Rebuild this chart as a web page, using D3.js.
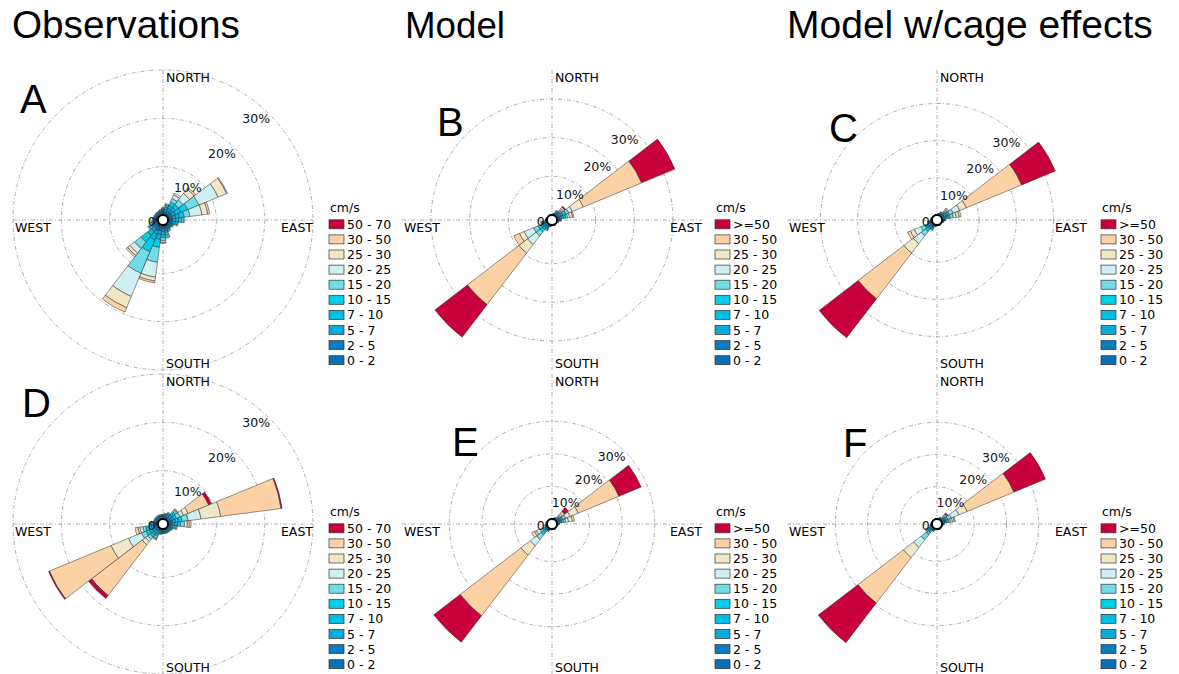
<!DOCTYPE html>
<html>
<head>
<meta charset="utf-8">
<script src="https://cdn.jsdelivr.net/npm/d3@7"></script>
<style>
  body { margin: 0; background: #fff; }
  svg { display: block; }
</style>
</head>
<body>
<svg id="chart" width="1179" height="674"></svg>
<script>
// ---- data --------------------------------------------------------------
// 24 direction sectors of 15 degrees (compass bearing, clockwise from north)
const directions = d3.range(0, 360, 15);

// speed classes, inner to outer
const speedBinsObs   = ["0 - 2", "2 - 5", "5 - 7", "7 - 10", "10 - 15", "15 - 20", "20 - 25", "25 - 30", "30 - 50", "50 - 70"];
const speedBinsModel = ["0 - 2", "2 - 5", "5 - 7", "7 - 10", "10 - 15", "15 - 20", "20 - 25", "25 - 30", "30 - 50", ">=50"];
const binColors = ["#0b6fb6", "#0a7cc2", "#09a9dd", "#00bde6", "#00cfeb", "#72dceb", "#cfeff2", "#efe7c5", "#fcd2a4", "#c8003b"];

const legendUnit   = "cm/s";
const ringTicks    = [10, 20, 30];
const compassText  = ["NORTH", "EAST", "SOUTH", "WEST"];
const columnTitles = ["Observations", "Model", "Model w/cage effects"];
const panelLetters = ["A", "B", "C", "D", "E", "F"];
// outer radius of each rose, in percent
const panelMax     = [30, 37.5, 39, 30, 44.5, 45];

// frequency of occurrence (%) : one row per direction, one column per speed class
const freqA = [
  [0.4,0.4,0.2,0.2,0.2,0.1,0,0,0,0],
  [0.4,0.4,0.4,0.4,0.4,0.2,0.2,0,0,0],
  [0.4,0.6,0.6,0.6,0.8,0.8,0.8,0.4,0,0],
  [0.4,0.6,0.6,0.6,0.8,1.2,1.7,1.2,0.4,0],
  [0.4,0.6,0.8,1.2,1.5,2.5,4.3,1.9,0.2,0],
  [0.4,0.6,0.6,0.8,1.0,1.2,2.5,1.2,0.4,0],
  [0.4,0.6,0.6,0.6,0.6,0.4,0.2,0,0,0],
  [0.4,0.4,0.4,0.4,0.4,0.2,0,0,0,0],
  [0.4,0.4,0.2,0.2,0.2,0,0,0,0,0],
  [0.4,0.2,0.2,0.2,0.2,0,0,0,0,0],
  [0.4,0.4,0.2,0.2,0.2,0.2,0,0,0,0],
  [0.4,0.4,0.4,0.4,0.6,0.4,0.2,0,0,0],
  [0.4,0.4,0.6,0.6,0.6,0.6,0.4,0.2,0,0],
  [0.4,0.8,0.8,1.0,1.7,3.1,3.1,0.8,0.4,0],
  [0.6,0.8,0.8,1.2,2.7,4.8,5.2,2.5,1.0,0],
  [0.4,0.8,0.8,1.0,1.7,1.7,1.2,0.6,0.4,0],
  [0.4,0.4,0.4,0.4,0.4,0.2,0.2,0,0,0],
  [0.4,0.4,0.2,0.2,0.2,0.2,0,0,0,0],
  [0.4,0.2,0.2,0.2,0.2,0,0,0,0,0],
  [0.4,0.2,0.2,0.2,0,0,0,0,0,0],
  [0.4,0.2,0.2,0.2,0,0,0,0,0,0],
  [0.4,0.2,0.2,0.2,0,0,0,0,0,0],
  [0.4,0.2,0.2,0.2,0,0,0,0,0,0],
  [0.4,0.2,0.2,0.2,0.2,0,0,0,0,0]
];

const freqB = [
  [0.1,0.1,0,0,0,0,0,0,0,0],
  [0.2,0.2,0.1,0,0,0,0,0,0,0],
  [0.3,0.3,0.3,0.3,0.2,0,0,0,0,0],
  [0.3,0.3,0.3,0.3,0.3,0.3,0.3,0.3,0.5,0.3],
  [0.3,0.5,0.5,0.5,0.8,0.8,1.0,3.1,16.3,9.3],
  [0.3,0.5,0.5,0.5,0.5,0.5,0.5,0.8,0.3,0],
  [0.3,0.3,0.2,0.2,0.1,0,0,0,0,0],
  [0.2,0.2,0.1,0,0,0,0,0,0,0],
  [0.1,0.1,0,0,0,0,0,0,0,0],
  [0.1,0.1,0,0,0,0,0,0,0,0],
  [0.1,0.1,0,0,0,0,0,0,0,0],
  [0.1,0.1,0,0,0,0,0,0,0,0],
  [0.1,0.1,0,0,0,0,0,0,0,0],
  [0.2,0.2,0.1,0,0,0,0,0,0,0],
  [0.3,0.3,0.3,0.3,0.3,0.3,0,0,0,0],
  [0.3,0.5,0.5,0.5,0.8,1.3,2.8,2.8,16.8,10.6],
  [0.3,0.5,0.5,0.5,0.8,1.3,2.6,1.3,1.6,0],
  [0.3,0.3,0.3,0.3,0.3,0.2,0,0,0,0],
  [0.2,0.2,0.1,0,0,0,0,0,0,0],
  [0.1,0.1,0,0,0,0,0,0,0,0],
  [0.1,0.1,0,0,0,0,0,0,0,0],
  [0.1,0.1,0,0,0,0,0,0,0,0],
  [0.1,0.1,0,0,0,0,0,0,0,0],
  [0.1,0.1,0,0,0,0,0,0,0,0]
];

const freqC = [
  [0.1,0.1,0,0,0,0,0,0,0,0],
  [0.2,0.2,0.1,0,0,0,0,0,0,0],
  [0.3,0.3,0.3,0.2,0,0,0,0,0,0],
  [0.3,0.3,0.3,0.3,0.3,0.3,0.3,0.3,0.3,0],
  [0.3,0.5,0.5,0.5,0.5,1.1,1.9,1.9,16.1,9.8],
  [0.3,0.5,0.5,0.5,0.5,0.8,0.8,0.8,0.5,0],
  [0.3,0.3,0.2,0.1,0,0,0,0,0,0],
  [0.2,0.2,0.1,0,0,0,0,0,0,0],
  [0.1,0.1,0,0,0,0,0,0,0,0],
  [0.1,0.1,0,0,0,0,0,0,0,0],
  [0.1,0.1,0,0,0,0,0,0,0,0],
  [0.1,0.1,0,0,0,0,0,0,0,0],
  [0.1,0.1,0,0,0,0,0,0,0,0],
  [0.2,0.2,0.1,0,0,0,0,0,0,0],
  [0.3,0.3,0.3,0.3,0.3,0.2,0,0,0,0],
  [0.3,0.5,0.5,0.5,0.8,1.4,2.7,3.2,15.5,13.2],
  [0.3,0.5,0.5,0.5,0.5,1.1,1.9,1.1,0.8,0],
  [0.3,0.3,0.3,0.2,0.1,0,0,0,0,0],
  [0.2,0.2,0.1,0,0,0,0,0,0,0],
  [0.1,0.1,0,0,0,0,0,0,0,0],
  [0.1,0.1,0,0,0,0,0,0,0,0],
  [0.1,0.1,0,0,0,0,0,0,0,0],
  [0.1,0.1,0,0,0,0,0,0,0,0],
  [0.1,0.1,0,0,0,0,0,0,0,0]
];

const freqD = [
  [0.2,0.4,0.2,0.2,0,0,0,0,0,0],
  [0.2,0.4,0.2,0.2,0.2,0,0,0,0,0],
  [0.2,0.4,0.4,0.2,0.2,0.2,0,0,0,0],
  [0.2,0.6,0.6,0.4,0.4,0.4,0.2,0.2,0,0],
  [0.2,0.4,0.4,0.4,0.6,0.8,0.8,1.0,4.6,0.6],
  [0.4,0.6,0.6,0.6,0.8,1.2,2.7,4.1,12.6,0.2],
  [0.2,0.6,0.6,0.6,0.6,0.8,0.6,0.4,0.4,0],
  [0.2,0.4,0.4,0.4,0.4,0.2,0,0,0,0],
  [0.2,0.4,0.2,0.2,0.2,0,0,0,0,0],
  [0.2,0.4,0.2,0.2,0,0,0,0,0,0],
  [0.2,0.4,0.2,0.2,0,0,0,0,0,0],
  [0.2,0.4,0.2,0.2,0,0,0,0,0,0],
  [0.2,0.4,0.2,0.2,0,0,0,0,0,0],
  [0.2,0.4,0.2,0.2,0.2,0,0,0,0,0],
  [0.2,0.4,0.4,0.4,0.4,0.4,0.2,0.2,0,0],
  [0.2,0.6,0.6,0.4,0.6,0.6,0.6,0.8,13.2,0.8],
  [0.2,0.6,0.6,0.6,0.8,1.0,2.9,3.9,13.8,0.2],
  [0.2,0.6,0.6,0.6,0.6,0.6,0.6,0.4,0.6,0],
  [0.2,0.4,0.4,0.4,0.2,0.2,0,0,0,0],
  [0.2,0.4,0.2,0.2,0,0,0,0,0,0],
  [0.2,0.4,0.2,0.2,0,0,0,0,0,0],
  [0.2,0.4,0.2,0.2,0,0,0,0,0,0],
  [0.2,0.4,0.2,0.2,0,0,0,0,0,0],
  [0.2,0.4,0.2,0.2,0,0,0,0,0,0]
];

const freqE = [
  [0.1,0.1,0,0,0,0,0,0,0,0],
  [0.1,0.1,0.1,0,0,0,0,0,0,0],
  [0.2,0.2,0.2,0.1,0,0,0,0,0,0],
  [0.2,0.2,0.3,0.3,0.3,0.3,0.3,0.6,0.9,1.5],
  [0.3,0.6,0.3,0.3,0.6,0.9,1.5,2.7,13.5,7.4],
  [0.3,0.6,0.3,0.3,0.6,0.6,0.9,1.2,0.6,0],
  [0.2,0.2,0.2,0.1,0,0,0,0,0,0],
  [0.1,0.1,0.1,0,0,0,0,0,0,0],
  [0.1,0.1,0,0,0,0,0,0,0,0],
  [0.1,0.1,0,0,0,0,0,0,0,0],
  [0.1,0.1,0,0,0,0,0,0,0,0],
  [0.1,0.1,0,0,0,0,0,0,0,0],
  [0.1,0.1,0,0,0,0,0,0,0,0],
  [0.1,0.1,0.1,0,0,0,0,0,0,0],
  [0.2,0.2,0.2,0.2,0.2,0,0,0,0,0],
  [0.3,0.6,0.3,0.6,0.9,1.8,2.4,3.6,23.5,10.2],
  [0.2,0.2,0.3,0.3,0.6,0.9,1.2,0.6,0.9,0],
  [0.2,0.2,0.2,0.1,0,0,0,0,0,0],
  [0.1,0.1,0.1,0,0,0,0,0,0,0],
  [0.1,0.1,0,0,0,0,0,0,0,0],
  [0.1,0.1,0,0,0,0,0,0,0,0],
  [0.1,0.1,0,0,0,0,0,0,0,0],
  [0.1,0.1,0,0,0,0,0,0,0,0],
  [0.1,0.1,0,0,0,0,0,0,0,0]
];

const freqF = [
  [0.1,0.1,0,0,0,0,0,0,0,0],
  [0.1,0.1,0.1,0,0,0,0,0,0,0],
  [0.2,0.2,0.2,0.1,0,0,0,0,0,0],
  [0.2,0.2,0.3,0.3,0.3,0.3,0.3,0.3,0.3,0.3],
  [0.3,0.6,0.3,0.3,0.6,1.2,2.5,2.8,15.7,10.6],
  [0.3,0.6,0.3,0.3,0.6,0.6,0.6,0.6,0.3,0],
  [0.2,0.2,0.2,0.1,0,0,0,0,0,0],
  [0.1,0.1,0.1,0,0,0,0,0,0,0],
  [0.1,0.1,0,0,0,0,0,0,0,0],
  [0.1,0.1,0,0,0,0,0,0,0,0],
  [0.1,0.1,0,0,0,0,0,0,0,0],
  [0.1,0.1,0,0,0,0,0,0,0,0],
  [0.1,0.1,0,0,0,0,0,0,0,0],
  [0.1,0.1,0.1,0,0,0,0,0,0,0],
  [0.2,0.2,0.2,0.2,0.2,0,0,0,0,0],
  [0.3,0.6,0.3,0.6,0.9,1.9,3.0,4.0,17.8,15.5],
  [0.2,0.2,0.3,0.3,0.3,0.3,0.3,0.3,0.3,0],
  [0.2,0.2,0.2,0.1,0,0,0,0,0,0],
  [0.1,0.1,0.1,0,0,0,0,0,0,0],
  [0.1,0.1,0,0,0,0,0,0,0,0],
  [0.1,0.1,0,0,0,0,0,0,0,0],
  [0.1,0.1,0,0,0,0,0,0,0,0],
  [0.1,0.1,0,0,0,0,0,0,0,0],
  [0.1,0.1,0,0,0,0,0,0,0,0]
];

// ---- layout ------------------------------------------------------------
const svg = d3.select("#chart");
const labelFont = "'DejaVu Sans', sans-serif";
const titleFont = "'Liberation Sans', Arial, sans-serif";
const INNER = 5, OUTER = 150;
const sectorWidth = 15;

const panels = [
  { freq: freqA, max: panelMax[0], letter: panelLetters[0], bins: speedBinsObs,   cx: 163, cy: 220, lx: 329,  letterPos: [20, 113] },
  { freq: freqB, max: panelMax[1], letter: panelLetters[1], bins: speedBinsModel, cx: 552, cy: 220, lx: 715,  letterPos: [437, 136] },
  { freq: freqC, max: panelMax[2], letter: panelLetters[2], bins: speedBinsModel, cx: 937, cy: 220, lx: 1101, letterPos: [829, 142] },
  { freq: freqD, max: panelMax[3], letter: panelLetters[3], bins: speedBinsObs,   cx: 163, cy: 524, lx: 329,  letterPos: [22, 417] },
  { freq: freqE, max: panelMax[4], letter: panelLetters[4], bins: speedBinsModel, cx: 552, cy: 524, lx: 715,  letterPos: [452, 456] },
  { freq: freqF, max: panelMax[5], letter: panelLetters[5], bins: speedBinsModel, cx: 937, cy: 524, lx: 1101, letterPos: [843, 457] }
];

const color = d3.scaleOrdinal().domain(d3.range(binColors.length)).range(binColors);
const angle = d3.scaleLinear().domain([0, 360]).range([0, 2 * Math.PI]);
const arc = d3.arc()
  .innerRadius(d => d.r0).outerRadius(d => d.r1)
  .startAngle(d => d.a0).endAngle(d => d.a1);

// column titles, sized to their column width
const titleSpecs = [
  { text: columnTitles[0], x: 12,  width: 228 },
  { text: columnTitles[1], x: 405, width: 100 },
  { text: columnTitles[2], x: 787, width: 366 }
];
titleSpecs.forEach(t => {
  const el = svg.append("text")
    .attr("x", t.x).attr("y", 38)
    .attr("font-family", titleFont).attr("font-size", 38)
    .attr("fill", "#000").text(t.text);
  const w = el.node().getComputedTextLength();
  el.attr("font-size", 38 * t.width / w);
});

panels.forEach(p => {
  const g = svg.append("g").attr("transform", `translate(${p.cx},${p.cy})`);
  const r = d3.scaleLinear().domain([0, p.max]).range([INNER, OUTER]);

  // dash-dot grid: rings and cross hairs
  const grid = g.append("g").attr("fill", "none").attr("stroke", "#8c8c8c")
    .attr("stroke-width", 0.7).attr("stroke-dasharray", "4 2 1 2");
  grid.selectAll("circle").data(ringTicks.filter(t => t <= p.max)).join("circle").attr("r", d => r(d));
  grid.append("line").attr("x1", -OUTER).attr("x2", OUTER).attr("y1", 0).attr("y2", 0);
  grid.append("line").attr("y1", -OUTER).attr("y2", OUTER).attr("x1", 0).attr("x2", 0);

  // stacked sectors
  const segs = [];
  p.freq.forEach((row, i) => {
    let cum = 0;
    const dir = directions[i];
    row.forEach((v, b) => {
      if (v > 0) {
        segs.push({ r0: r(cum), r1: r(cum + v), a0: angle(dir - sectorWidth / 2), a1: angle(dir + sectorWidth / 2), bin: b });
      }
      cum += v;
    });
  });
  g.append("g").selectAll("path").data(segs).join("path")
    .attr("d", arc)
    .attr("fill", d => color(d.bin))
    .attr("stroke", "#2a2a2a").attr("stroke-width", 0.5).attr("stroke-linejoin", "round");

  // percent labels, top-right corner on each ring at 45 degrees
  const s45 = Math.SQRT1_2;
  g.append("g").selectAll("text").data([0].concat(ringTicks.filter(t => t <= p.max))).join("text")
    .attr("x", d => r(d) * s45 + 1)
    .attr("y", d => -r(d) * s45 + 9.5)
    .attr("text-anchor", "end")
    .attr("font-family", labelFont).attr("font-size", 12.5).attr("fill", "#111")
    .text(d => d + "%");

  // calm circle
  g.append("circle").attr("r", INNER).attr("fill", "#fff").attr("stroke", "#000").attr("stroke-width", 1.8);

  // compass names
  const cf = g.append("g").attr("font-family", labelFont).attr("font-size", 12.5).attr("fill", "#000");
  cf.append("text").attr("x", 3).attr("y", -138).text(compassText[0]);
  cf.append("text").attr("x", OUTER).attr("y", 12).attr("text-anchor", "end").text(compassText[1]);
  cf.append("text").attr("x", 3).attr("y", 148).text(compassText[2]);
  cf.append("text").attr("x", -148).attr("y", 12).text(compassText[3]);

  // panel letter
  svg.append("text").attr("x", p.letterPos[0]).attr("y", p.letterPos[1])
    .attr("font-family", titleFont).attr("font-size", 40).attr("fill", "#000").text(p.letter);

  // legend: outermost class on top
  const lg = svg.append("g").attr("transform", `translate(${p.lx},${p.cy})`)
    .attr("font-family", labelFont).attr("font-size", 12.5).attr("fill", "#000");
  lg.append("text").attr("x", 1).attr("y", -8).text(legendUnit);
  const order = d3.range(p.bins.length).reverse();
  const rows = lg.selectAll("g.row").data(order).join("g").attr("class", "row")
    .attr("transform", (d, i) => `translate(0,${4.3 + i * 15.1})`);
  rows.append("rect").attr("x", 0).attr("y", -4.5).attr("width", 15).attr("height", 9)
    .attr("fill", d => color(d)).attr("stroke", "#333").attr("stroke-width", 0.7);
  rows.append("text").attr("x", 18).attr("y", 4.5).text(d => p.bins[d]);
});
</script>
</body>
</html>
